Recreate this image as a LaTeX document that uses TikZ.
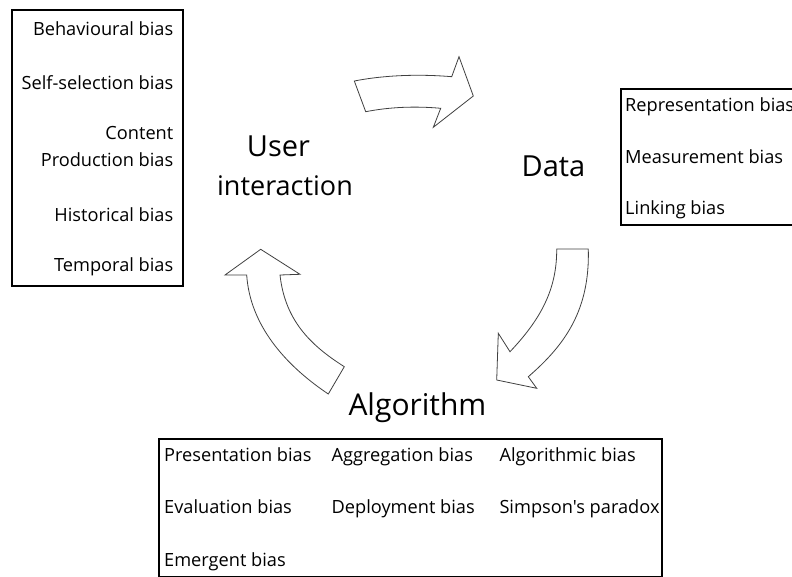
\documentclass[tikz,border=0pt]{standalone}
\usepackage{fontspec}
\setmainfont{Open Sans}[Ligatures=TeXOff]
\begin{document}
\begin{tikzpicture}[x=1pt,y=-1pt,
  small/.style={font=\fontsize{18.2}{21}\selectfont, inner sep=0pt, text=black},
  big/.style={font=\fontsize{29}{34}\selectfont, inner sep=0pt, text=black},
  biasbox/.style={draw=black, line width=1.8pt, inner sep=0pt, anchor=north west},
  blockarrow/.style={draw=black!75, line width=0.8pt, fill=white, line join=miter}]
\useasboundingbox (0,0) rectangle (792,577);
\clip (0,0) rectangle (792,577);

% ---- user interaction stage ----
\node[biasbox, minimum width=171pt, minimum height=276pt] (ubox) at (11,9) {};
\node[small, anchor=base east] (u1) at (173.5,36) {Behavioural bias};
\node[small, anchor=base east] (u2) at (173.5,90) {Self-selection bias};
\node[small, anchor=base east] (u3) at (173.5,140) {Content};
\node[small, anchor=base east] (u4) at (173.5,167) {Production bias};
\node[small, anchor=base east] (u5) at (173.5,221.5) {Historical bias};
\node[small, anchor=base east] (u6) at (173.5,271.5) {Temporal bias};
\node[big, anchor=base] (user) at (278.5,157) {User};
\node[big, anchor=base, font=\fontsize{27}{32}\selectfont] (inter) at (285,196) {interaction};

% ---- data stage ----
\node[biasbox, minimum width=190pt, minimum height=136pt] (dbox) at (620,88.5) {};
\node[small, anchor=base west] (d1) at (625,111.5) {Representation bias};
\node[small, anchor=base west] (d2) at (625,163.5) {Measurement bias};
\node[small, anchor=base west] (d3) at (625,215) {Linking bias};
\node[big, anchor=base west] (data) at (521.5,176.5) {Data};

% ---- algorithm stage ----
\node[biasbox, minimum width=503pt, minimum height=138pt] (abox) at (158.3,438.3) {};
\node[small, anchor=base west] (a1) at (164,461.7) {Presentation bias};
\node[small, anchor=base west] (a2) at (331.5,461.7) {Aggregation bias};
\node[small, anchor=base west] (a3) at (499.3,461.7) {Algorithmic bias};
\node[small, anchor=base west] (a4) at (164,513.3) {Evaluation bias};
\node[small, anchor=base west] (a5) at (331.5,513.3) {Deployment bias};
\node[small, anchor=base west] (a6) at (499.3,513.3) {Simpson's paradox};
\node[small, anchor=base west] (a7) at (164,566.7) {Emergent bias};
\node[big, anchor=base west, font=\fontsize{30}{35}\selectfont] (algo) at (348.3,415) {Algorithm};

% ---- curved block arrows of the cycle ----
% user interaction -> data
\path[blockarrow] (354.3,81) .. controls (385,75) and (420,74) .. (451.7,76.7)
  -- (459,56.7) -- (473.3,96) -- (433.3,127.3) -- (440.7,108.3)
  .. controls (415,106) and (390,107) .. (365.7,111.7) -- cycle;
% data -> algorithm
\path[blockarrow] (556.7,249) -- (588.3,249)
  .. controls (590,310) and (565,345) .. (528.3,376.7)
  -- (536.7,388.3) -- (496.7,380) -- (498.3,333.3) -- (510,351.7)
  .. controls (540,320) and (557,290) .. (556.7,249) -- cycle;
% algorithm -> user interaction
\path[blockarrow] (260.7,249.3) -- (300,274.3) -- (280,275)
  .. controls (285,320) and (310,345) .. (344.3,366.7)
  -- (328.3,394)
  .. controls (285,365) and (250,325) .. (246.7,275)
  -- (225,275) -- cycle;
\end{tikzpicture}
\end{document}
